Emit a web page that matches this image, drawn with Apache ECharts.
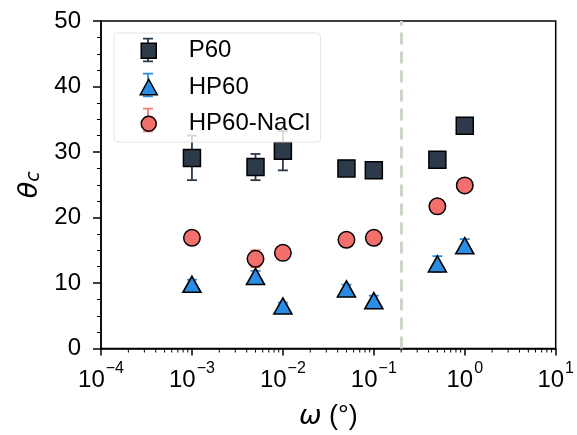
<!DOCTYPE html>
<html><head><meta charset="utf-8">
<script src="https://cdn.jsdelivr.net/npm/echarts@6/dist/echarts.min.js"></script>
<style>html,body{margin:0;padding:0;background:#fff}#c{width:577px;height:435px}</style>
</head><body><div id="c"></div>
<script>
// ---- data ----
const omega = [0.001, 0.005, 0.01, 0.05, 0.1, 0.5, 1];
const p60 = [29.1, 27.7, 30.2, 27.5, 27.2, 28.8, 34.0];
const p60Err = [3.4, 2.0, 3.0, 0.6, 0.5, 0.7, 0.6];
const hp60 = [9.8, 11.0, 6.5, 9.1, 7.3, 12.9, 15.7];
const hp60Err = [0.7, 0.85, 0.5, 0.65, 0.76, 1.2, 1.0];
const nacl = [16.9, 13.7, 14.6, 16.6, 16.9, 21.7, 24.9];
const naclErr = [0.6, 1.3, 0.5, 0.5, 0.5, 0.6, 0.6];
const xExponents = ['−4', '−3', '−2', '−1', '0', '1'];
const xDecades = [0.0001, 0.001, 0.01, 0.1, 1];
const minorMultipliers = [2, 3, 4, 5, 6, 7, 8, 9];
const dividerOmega = 0.2;
const seriesNames = ['P60', 'HP60', 'HP60-NaCl'];

// ---- styles ----
const FONT = "'Liberation Sans', Arial, Helvetica, sans-serif";
const MATH = "'DejaVu Sans', sans-serif";
const colP60 = '#2d3a4a', colHP = '#2b8ce3', colNa = '#f26f6c';
const errP60 = '#2d3a4a', errHP = '#2b8ce3', errNa = '#f47c79';

const minorTicks = [];
xDecades.forEach(d => minorMultipliers.forEach(m => minorTicks.push([m * d, 0])));

function errSeries(name, vals, errs, color) {
  return {
    type: 'custom', name: name, silent: true, z: 2,
    data: omega.map((x, i) => [x, vals[i] - errs[i], vals[i] + errs[i]]),
    encode: { x: 0, y: [1, 2] },
    renderItem: function (params, api) {
      const x = api.value(0);
      const lo = api.coord([x, api.value(1)]);
      const hi = api.coord([x, api.value(2)]);
      const w = 5;
      const st = { stroke: color, lineWidth: 1.8 };
      return { type: 'group', children: [
        { type: 'line', shape: { x1: lo[0], y1: lo[1], x2: hi[0], y2: hi[1] }, style: st },
        { type: 'line', shape: { x1: lo[0] - w, y1: lo[1], x2: lo[0] + w, y2: lo[1] }, style: st },
        { type: 'line', shape: { x1: hi[0] - w, y1: hi[1], x2: hi[0] + w, y2: hi[1] }, style: st }
      ]};
    }
  };
}

const BOX = 'M0 0 M55 26 ';
const iconErr = BOX + 'M15 0.8 L25 0.8 L25 2.6 L15 2.6 Z M15 23.4 L25 23.4 L25 25.2 L15 25.2 Z M19.1 2.6 L20.9 2.6 L20.9 23.4 L19.1 23.4 Z';
const iconSq = BOX + 'M12.5 5.5 L27.5 5.5 L27.5 20.5 L12.5 20.5 Z';
const iconTri = BOX + 'M20 5 L28.5 20.5 L11.5 20.5 Z';
const iconCir = BOX + 'M12.5 13 A7.5 7.5 0 1 0 27.5 13 A7.5 7.5 0 1 0 12.5 13 Z';

const legendBase = {
  orient: 'vertical', left: 114, top: 33,
  itemWidth: 55, itemHeight: 26, itemGap: 9,
  padding: [4, 11, 9, 14],
  selectedMode: false,
  textStyle: { fontFamily: FONT, fontSize: 24, lineHeight: 26, color: '#000', padding: [0, 0, 0, 0] }
};

const chart = echarts.init(document.getElementById('c'), null, { renderer: 'canvas' });
chart.setOption({
  animation: false,
  backgroundColor: '#fff',
  grid: { left: 101, right: 18, top: 21, bottom: 85, show: true, borderColor: '#000', borderWidth: 1.5, backgroundColor: 'transparent' },
  legend: [
    Object.assign({}, legendBase, {
      z: 4,
      backgroundColor: 'rgba(255,255,255,0.8)', borderColor: '#e4e4e4', borderWidth: 1, borderRadius: 3,
      textStyle: Object.assign({}, legendBase.textStyle, { color: 'rgba(0,0,0,0)' }),
      data: [
        { name: seriesNames[0], icon: 'path://' + iconErr, itemStyle: { color: errP60, borderWidth: 0 } },
        { name: seriesNames[1], icon: 'path://' + iconErr, itemStyle: { color: errHP, borderWidth: 0 } },
        { name: seriesNames[2], icon: 'path://' + iconErr, itemStyle: { color: errNa, borderWidth: 0 } }
      ]
    }),
    Object.assign({}, legendBase, {
      z: 5,
      data: [
        { name: seriesNames[0], icon: 'path://' + iconSq, itemStyle: { color: colP60, borderColor: '#000', borderWidth: 1.5 } },
        { name: seriesNames[1], icon: 'path://' + iconTri, itemStyle: { color: colHP, borderColor: '#000', borderWidth: 1.5 } },
        { name: seriesNames[2], icon: 'path://' + iconCir, itemStyle: { color: colNa, borderColor: '#000', borderWidth: 1.5 } }
      ]
    })
  ],
  xAxis: {
    type: 'log', logBase: 10, min: 0.0001, max: 10,
    name: '{w|ω}{r| (°)}', nameLocation: 'middle', nameGap: 52,
    nameTextStyle: { rich: {
      w: { fontFamily: MATH, fontStyle: 'italic', fontSize: 27, color: '#000', lineHeight: 32 },
      r: { fontFamily: FONT, fontSize: 27, color: '#000', lineHeight: 32 }
    }},
    axisLine: { show: true, onZero: false, lineStyle: { color: '#000', width: 1.5 } },
    axisTick: { show: true, length: 7, lineStyle: { color: '#000', width: 1.5 } },
    splitLine: { show: false },
    axisLabel: {
      margin: 12,
      formatter: function (v) {
        const e = Math.round(Math.log10(v));
        return '{b|10}{s|' + xExponents[e + 4] + '}';
      },
      rich: {
        b: { fontFamily: FONT, fontSize: 24, color: '#000', lineHeight: 32, verticalAlign: 'bottom' },
        s: { fontFamily: FONT, fontSize: 16, color: '#000', lineHeight: 32, verticalAlign: 'top', padding: [0, 0, 0, 1] }
      }
    }
  },
  yAxis: {
    type: 'value', min: 0, max: 50, interval: 10,
    name: '{t|θ}{s|c}', nameLocation: 'middle', nameRotate: 90, nameGap: 57,
    nameTextStyle: { rich: {
      t: { fontFamily: MATH, fontStyle: 'italic', fontSize: 27, color: '#000', lineHeight: 34, verticalAlign: 'bottom' },
      s: { fontFamily: MATH, fontStyle: 'italic', fontSize: 19, color: '#000', lineHeight: 30, verticalAlign: 'bottom' }
    }},
    axisLine: { show: true, lineStyle: { color: '#000', width: 1.5 } },
    axisTick: { show: true, length: 8, lineStyle: { color: '#000', width: 1.5 } },
    minorTick: { show: true, splitNumber: 4, length: 4, lineStyle: { color: '#000', width: 1 } },
    splitLine: { show: false },
    axisLabel: { margin: 20, fontFamily: FONT, fontSize: 24, color: '#000' }
  },
  series: [
    {
      type: 'custom', name: 'xminor', silent: true, z: 1,
      data: minorTicks,
      renderItem: function (params, api) {
        const p = api.coord([api.value(0), 0]);
        return { type: 'line', shape: { x1: p[0], y1: p[1], x2: p[0], y2: p[1] + 4 }, style: { stroke: '#000', lineWidth: 1 } };
      }
    },
    errSeries('P60-err', p60, p60Err, errP60),
    {
      type: 'scatter', name: seriesNames[0], z: 3, silent: true,
      data: omega.map((x, i) => [x, p60[i]]),
      symbol: 'rect', symbolSize: 17,
      itemStyle: { color: colP60, borderColor: '#000', borderWidth: 1.5, opacity: 1 },
      markLine: {
        silent: true, symbol: 'none', label: { show: false },
        lineStyle: { color: '#cbd5c8', width: 3, type: [12, 7] },
        data: [{ xAxis: dividerOmega }]
      }
    },
    errSeries('HP60-err', hp60, hp60Err, errHP),
    {
      type: 'scatter', name: seriesNames[1], z: 3, silent: true,
      data: omega.map((x, i) => [x, hp60[i]]),
      symbol: 'triangle', symbolSize: [18, 16],
      itemStyle: { color: colHP, borderColor: '#000', borderWidth: 1.6, opacity: 1 }
    },
    errSeries('HP60-NaCl-err', nacl, naclErr, errNa),
    {
      type: 'scatter', name: seriesNames[2], z: 3, silent: true,
      data: omega.map((x, i) => [x, nacl[i]]),
      symbol: 'circle', symbolSize: 16.5,
      itemStyle: { color: colNa, borderColor: '#000', borderWidth: 1.5, opacity: 1 }
    }
  ]
});
</script>
</body></html>
